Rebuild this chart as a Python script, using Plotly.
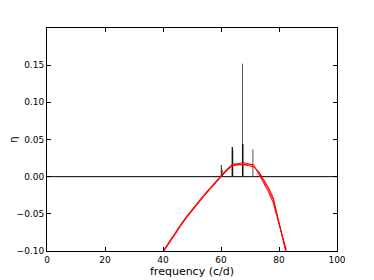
import plotly.graph_objects as go

# stems
stem_freq = [60.1, 60.4, 63.9, 64.0, 67.4, 67.5, 71.0]
stem_eta = [0.0157, 0.009, 0.040, 0.036, 0.152, 0.044, 0.037]
stem_width = [1.0, 1.0, 1.3, 1.3, 1.0, 1.5, 1.0]
stem_color = ["#222222", "#222222", "#111111", "#111111", "#555555", "#111111", "#555555"]

# red curves
curve_freq = [40, 42, 44, 46, 48, 50, 52, 54, 56, 58, 60, 62, 64, 66, 67.7, 69.5, 71.2, 73, 74.5, 76.3, 78, 80, 82.5]
curve_a = [-0.101, -0.089, -0.077, -0.066, -0.055, -0.045, -0.035, -0.026, -0.017, -0.008, 0.001, 0.009,
           0.016, 0.018, 0.019, 0.017, 0.015, 0.006, -0.004, -0.017, -0.031, -0.062, -0.101]
curve_b = [-0.102, -0.090, -0.078, -0.067, -0.056, -0.046, -0.036, -0.027, -0.018, -0.009, 0.000, 0.008,
           0.015, 0.016, 0.017, 0.017, 0.016, 0.004, -0.007, -0.020, -0.035, -0.064, -0.098]
curve_c = [-0.100, -0.088, -0.076, -0.065, -0.054, -0.044, -0.034, -0.025, -0.016, -0.007, 0.002, 0.010,
           0.017, 0.017, 0.016, 0.015, 0.013, 0.007, -0.002, -0.014, -0.028, -0.060, -0.104]

zero_x = [0, 100]
zero_y = [0, 0]

xticks = [0, 20, 40, 60, 80, 100]
yticks = [-0.10, -0.05, 0.00, 0.05, 0.10, 0.15]
yticktext = ["\u22120.10", "\u22120.05", "0.00", "0.05", "0.10", "0.15"]

fig = go.Figure()
fig.add_trace(go.Scatter(x=zero_x, y=zero_y, mode="lines",
                         line=dict(color="black", width=1), showlegend=False))
for f, e, w, c in zip(stem_freq, stem_eta, stem_width, stem_color):
    fig.add_trace(go.Scatter(x=[f, f], y=[0, e], mode="lines",
                             line=dict(color=c, width=w), showlegend=False))
for cy in (curve_a, curve_b, curve_c):
    fig.add_trace(go.Scatter(x=curve_freq, y=cy, mode="lines",
                             line=dict(color="red", width=1), showlegend=False))

axis_common = dict(showgrid=False, zeroline=False, showline=True, linecolor="black",
                   linewidth=1, mirror="ticks", ticks="inside", ticklen=4, automargin=False,
                   tickcolor="black", tickfont=dict(family="DejaVu Sans", size=9, color="black"))

fig.update_layout(
    width=366, height=272,
    margin=dict(l=39, r=37, t=20, b=29),
    plot_bgcolor="white", paper_bgcolor="white",
    xaxis=dict(range=[0, 100], tickvals=xticks, **axis_common),
    yaxis=dict(range=[-0.1, 0.2], tickvals=yticks, ticktext=yticktext,
               title=dict(text="η", standoff=2,
                          font=dict(family="DejaVu Sans", size=10, color="black")),
               **axis_common),
    annotations=[dict(text="frequency (c/d)", x=0.5, xref="paper", y=0, yref="paper",
                      xanchor="center", yanchor="top", yshift=-12, showarrow=False,
                      font=dict(family="DejaVu Sans", size=11, color="black"))],
)

fig.write_html("out.html")
